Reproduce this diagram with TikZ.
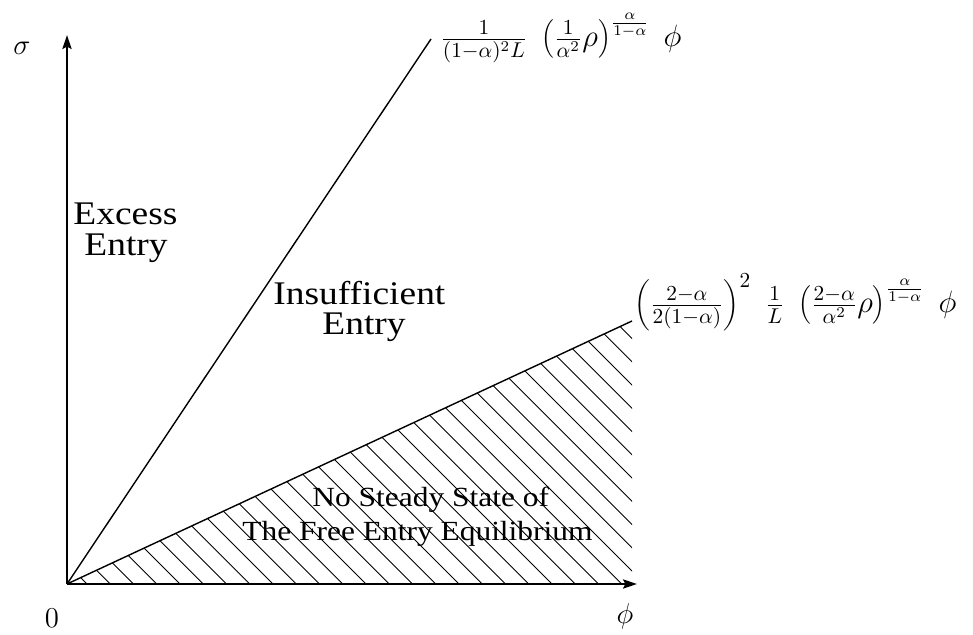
\documentclass[tikz,border=0pt]{standalone}
\usepackage[no-math]{fontspec}
\setmainfont{Liberation Serif}
\usetikzlibrary{arrows.meta}
\newcommand{\hstretch}[1]{\scalebox{1.135}[1]{#1}}
\newcommand{\mathgrow}[1]{\scalebox{1.07}{#1}}
\tikzset{
  axisline/.style={line width=0.9pt, -{Stealth[length=7pt,width=4.6pt,inset=1.2pt]}},
  boundline/.style={line width=0.7pt},
  hatchline/.style={line width=0.45pt},
  bigtext/.style={anchor=base west, inner sep=0pt, font=\rmfamily\fontsize{16.5}{18}\selectfont},
  midtext/.style={anchor=base west, inner sep=0pt, font=\rmfamily\fontsize{13.85}{16}\selectfont},
  axislabel/.style={inner sep=0pt, font=\fontsize{15.5}{18}\selectfont},
  mathlabel/.style={anchor=base west, inner sep=0pt, font=\fontsize{14.4}{17}\selectfont}
}
\begin{document}
\begin{tikzpicture}[x=0.5pt,y=-0.5pt]
\useasboundingbox (0,0) rectangle (973,635);
\coordinate (O) at (67,584);
\coordinate (Ytip) at (67,35);
\coordinate (Xtip) at (637,584);
\coordinate (U) at (431,39);
\coordinate (Lo) at (632,321);
\coordinate (Rb) at (632,584);
% hatching
\begin{scope}
  \clip (O) -- (Lo) -- (Rb) -- cycle;
  \foreach \k in {-1,...,36}
    \draw[hatchline] ({87+23.25*\k},584) -- ++(-700,-700);
\end{scope}
% axes and boundaries
\draw[axisline] (O) -- (Ytip);
\draw[axisline] (O) -- (Xtip);
\draw[boundline] (O) -- (U);
\draw[boundline] (O) -- (Lo);
% axis labels
\node[axislabel] (sigma) at (22,48) {$\sigma$};
\node[axislabel] (zero) at (52,618) {$0$};
\node[axislabel] (phi) at (625,616) {$\phi$};
% curve labels
\node[mathlabel] (ulabel) at (440,47)
  {\mathgrow{$\frac{1}{(1-\alpha)^2 L}\;\left(\frac{1}{\alpha^2}\rho\right)^{\frac{\alpha}{1-\alpha}}\;\phi$}};
\node[mathlabel] (llabel) at (634,313)
  {\mathgrow{$\left(\frac{2-\alpha}{2(1-\alpha)}\right)^{2}\;\frac{1}{L}\;\left(\frac{2-\alpha}{\alpha^2}\rho\right)^{\frac{\alpha}{1-\alpha}}\;\phi$}};
% region labels
\node[bigtext] (ex1) at (73,224.5) {\hstretch{Excess}};
\node[bigtext] (ex2) at (84,256) {\hstretch{Entry}};
\node[bigtext] (ins1) at (273,305) {\hstretch{Insufficient}};
\node[bigtext] (ins2) at (322,335) {\hstretch{Entry}};
\node[midtext] (ns1) at (312,506) {\hstretch{No Steady State of}};
\node[midtext] (ns2) at (242,540) {\hstretch{The Free Entry Equilibrium}};
\end{tikzpicture}
\end{document}
